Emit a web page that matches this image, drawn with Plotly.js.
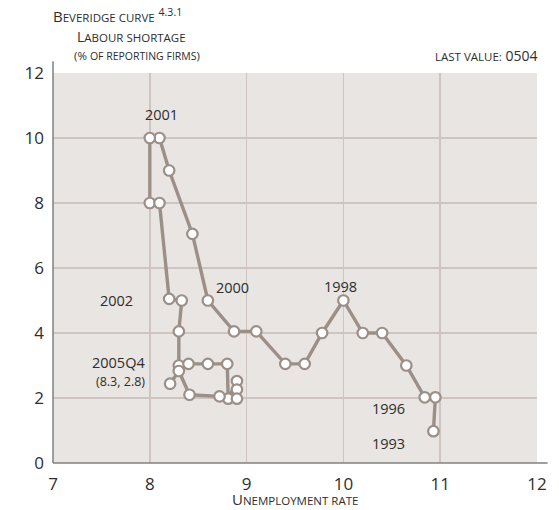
<!DOCTYPE html>
<html>
<head>
<meta charset="utf-8">
<script src="https://cdn.plot.ly/plotly-3.0.1.min.js"></script>
<style>
html,body{margin:0;padding:0;background:#fff;}
#chart{width:559px;height:510px;}
</style>
</head>
<body>
<div id="chart"></div>
<script>
// Unemployment rate (%) and labour shortage (% of reporting firms), chronological path
const unemployment = [10.93, 10.95, 10.84, 10.65, 10.4, 10.2, 10.0, 9.78, 9.6, 9.4, 9.1, 8.87, 8.6, 8.44, 8.2, 8.1, 8.0, 8.0, 8.1, 8.2, 8.33, 8.3, 8.3, 8.4, 8.6, 8.8, 8.81, 8.9, 8.9, 8.9, 8.72, 8.41, 8.3, 8.21];
const labourShortage = [0.98, 2.02, 2.02, 3.0, 4.0, 4.0, 5.0, 4.0, 3.05, 3.05, 4.05, 4.05, 5.0, 7.05, 9.0, 10.0, 10.0, 8.0, 8.0, 5.05, 5.0, 4.05, 3.0, 3.05, 3.05, 3.05, 1.98, 2.52, 2.26, 1.98, 2.05, 2.1, 2.83, 2.44];
const xTicks = [7, 8, 9, 10, 11, 12];
const yTicks = [0, 2, 4, 6, 8, 10, 12];
const pointLabels = ["2001", "2000", "1998", "2002", "2005Q4", "(8.3, 2.8)", "1996", "1993"];
const pointLabelX = [8.12, 8.85, 9.97, 7.66, 7.68, 7.7, 10.47, 10.47];
const pointLabelY = [10.72, 5.4, 5.43, 5.0, 3.1, 2.5, 1.68, 0.6];

const lineColor = '#9C8F88';
const textColor = '#2e2e2e';
const fontFam = '"Open Sans", "Noto Sans", sans-serif';

const trace = {
  x: unemployment,
  y: labourShortage,
  type: 'scatter',
  mode: 'lines+markers',
  line: {color: lineColor, width: 3.4},
  marker: {size: 10.5, color: '#ffffff', line: {color: lineColor, width: 2.2}},
  hoverinfo: 'x+y'
};

const anns = pointLabels.map((t, i) => ({
  x: pointLabelX[i], y: pointLabelY[i], xref: 'x', yref: 'y',
  text: t, showarrow: false,
  font: {family: fontFam, size: i === 5 ? 12.5 : 14.5, color: textColor},
  xanchor: 'center', yanchor: 'middle'
}));

// titles (small caps emulation)
anns.push({
  xref: 'paper', yref: 'paper', x: -0.004, y: 1.147, xanchor: 'left', yanchor: 'middle',
  showarrow: false,
  text: 'B<span style="font-size:11.5px">EVERIDGE CURVE</span> <sup>4.3.1</sup>',
  font: {family: fontFam, size: 15, color: textColor}
});
anns.push({
  xref: 'paper', yref: 'paper', x: 0.046, y: 1.094, xanchor: 'left', yanchor: 'middle',
  showarrow: false,
  text: 'L<span style="font-size:11.5px">ABOUR SHORTAGE</span>',
  font: {family: fontFam, size: 14, color: textColor}
});
anns.push({
  xref: 'paper', yref: 'paper', x: 0.04, y: 1.046, xanchor: 'left', yanchor: 'middle',
  showarrow: false,
  text: '(% <span style="font-size:10.5px">OF REPORTING FIRMS</span>)',
  font: {family: fontFam, size: 11.5, color: textColor}
});
anns.push({
  xref: 'paper', yref: 'paper', x: 1.004, y: 1.046, xanchor: 'right', yanchor: 'middle',
  showarrow: false,
  text: '<span style="font-size:11.5px">LAST VALUE:</span> 0504',
  font: {family: fontFam, size: 14, color: textColor}
});
anns.push({
  xref: 'paper', yref: 'paper', x: 0.5, y: -0.093, xanchor: 'center', yanchor: 'middle',
  showarrow: false,
  text: 'U<span style="font-size:11.5px">NEMPLOYMENT RATE</span>',
  font: {family: fontFam, size: 15, color: textColor}
});

const layout = {
  width: 559, height: 510,
  margin: {l: 53, r: 22, t: 73, b: 47, pad: 0},
  paper_bgcolor: '#ffffff',
  plot_bgcolor: '#E9E5E2',
  showlegend: false,
  font: {family: fontFam, color: textColor},
  xaxis: {
    range: [7, 12], tickvals: xTicks, ticktext: xTicks.map(String),
    showgrid: true, gridcolor: '#CEC5C0', gridwidth: 1.5,
    zeroline: false, showline: false, ticks: '',
    ticklabelstandoff: 9,
    tickfont: {family: fontFam, size: 17, color: textColor},
    fixedrange: true
  },
  yaxis: {
    range: [0, 12], tickvals: yTicks, ticktext: yTicks.map(String),
    showgrid: true, gridcolor: '#CEC5C0', gridwidth: 1.5,
    zeroline: false, showline: false, ticks: '',
    ticklabelstandoff: 8,
    tickfont: {family: fontFam, size: 17, color: textColor},
    fixedrange: true
  },
  shapes: [
    {type: 'line', xref: 'paper', yref: 'paper', x0: 0, x1: 0, y0: 0, y1: 1.03,
     line: {color: '#808080', width: 1.5}},
    {type: 'line', xref: 'paper', yref: 'paper', x0: 0, x1: 1.022, y0: 0, y1: 0,
     line: {color: '#808080', width: 1.5}}
  ],
  annotations: anns
};

Plotly.newPlot('chart', [trace], layout, {displayModeBar: false, staticPlot: true});
</script>
</body>
</html>
